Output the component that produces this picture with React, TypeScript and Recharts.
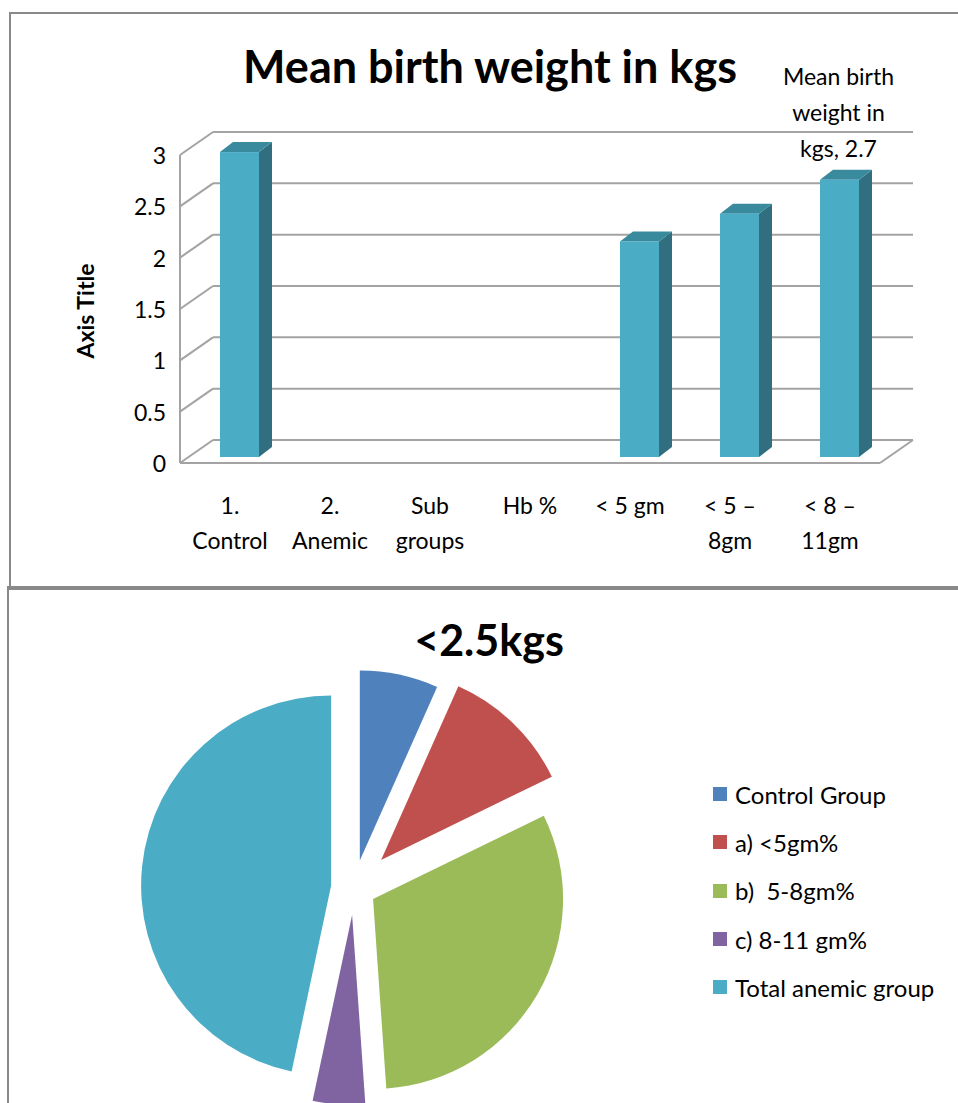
import React from "react";
import { BarChart, Bar, XAxis, YAxis, CartesianGrid, LabelList, PieChart, Pie, Cell } from "recharts";

// Bar chart data
const categories = ["1.\nControl", "2.\nAnemic", "Sub\ngroups", "Hb %", "< 5 gm", "< 5 –\n8gm", "< 8 –\n11gm"];
const meanWeights = [2.97, null, null, null, 2.1, 2.37, 2.7];
const yTicks = [0, 0.5, 1, 1.5, 2, 2.5, 3];
const seriesName = "Mean birth weight in kgs";

// Pie chart data (<2.5 kgs)
const pieNames = ["Control Group", "a) <5gm%", "b)  5-8gm%", "c) 8-11 gm%", "Total anemic group"];
const pieValues = [3, 5, 14, 2, 21];
const pieColors = ["#4F81BD", "#C0504D", "#9BBB59", "#8064A2", "#4BACC6"];
// how far each slice is pulled out from the centre (px)
const pieExplode = [28, 39, 22, 27, 23];

const FONT = "Lato, 'Open Sans', sans-serif";
const GRID = "#A3A3A3";
const BORDER = "#898989";
const TICK_FS = 23;

// plot area of the bar chart (bar plane)
const PLOT_LEFT = 189;
const PLOT_RIGHT = 889;
const PLOT_TOP = 149;
const PLOT_BOTTOM = 457;
// offsets of the front plane and back wall relative to the bar plane
const FX = -9, FY = 6;
const BX = 24, BY = -17;

const barData = categories.map((c, i) => ({ name: c, weight: meanWeights[i] }));
const pieData = pieNames.map((n, i) => ({ name: n, value: pieValues[i] }));

function GridLine(props: any) {
  const y = props.y1;
  const isFloor = Math.abs(y - PLOT_BOTTOM) < 1;
  return (
    <g>
      <line x1={PLOT_LEFT + FX} y1={y + FY} x2={PLOT_LEFT + BX} y2={y + BY} stroke={GRID} strokeWidth={2} />
      <line x1={PLOT_LEFT + BX} y1={y + BY} x2={PLOT_RIGHT + BX} y2={y + BY} stroke={GRID} strokeWidth={2} />
      {isFloor && (
        <>
          <line x1={PLOT_LEFT + FX} y1={y + FY} x2={PLOT_RIGHT + FX} y2={y + FY} stroke={GRID} strokeWidth={2} />
          <line x1={PLOT_RIGHT + FX} y1={y + FY} x2={PLOT_RIGHT + BX} y2={y + BY} stroke={GRID} strokeWidth={2} />
          <line
            x1={PLOT_LEFT + FX}
            y1={y + FY}
            x2={PLOT_LEFT + FX}
            y2={y + FY - (PLOT_BOTTOM - PLOT_TOP)}
            stroke={GRID}
            strokeWidth={2}
          />
        </>
      )}
    </g>
  );
}

function YTick({ y, payload }: any) {
  return (
    <text x={166} y={y + FY} textAnchor="end" dominantBaseline="central" fontSize={TICK_FS} fontFamily={FONT} fill="#000">
      {payload.value}
    </text>
  );
}

function XTick({ x, payload }: any) {
  const lines = String(payload.value).split("\n");
  return (
    <text x={x + FX} y={505} textAnchor="middle" fontSize={TICK_FS} fontFamily={FONT} fill="#000">
      {lines.map((l, i) => (
        <tspan key={i} x={x + FX} y={505 + i * 35} dominantBaseline="central">
          {l}
        </tspan>
      ))}
    </text>
  );
}

function Bar3D(props: any) {
  const { x, y, width, height } = props;
  if (!height || height <= 0) return null;
  const dx = 13, dy = -10;
  return (
    <g>
      <polygon
        points={`${x + width},${y} ${x + width + dx},${y + dy} ${x + width + dx},${y + height + dy} ${x + width},${y + height}`}
        fill="#316F80"
      />
      <polygon points={`${x},${y} ${x + dx},${y + dy} ${x + width + dx},${y + dy} ${x + width},${y}`} fill="#3A8A9E" />
      <rect x={x} y={y} width={width} height={height} fill="#4BACC6" />
    </g>
  );
}

function wrapWords(text: string, max: number) {
  const out: string[] = [];
  let cur = "";
  text.split(" ").forEach((w) => {
    const next = cur ? cur + " " + w : w;
    if (next.length > max && cur) {
      out.push(cur);
      cur = w;
    } else cur = next;
  });
  if (cur) out.push(cur);
  return out;
}

const lastWeight = meanWeights[meanWeights.length - 1];

// only the last bar carries a data label in the original
function WeightLabel(props: any) {
  const vb = props.viewBox || {};
  const x = vb.x ?? props.x;
  const y = vb.y ?? props.y;
  const width = vb.width ?? props.width ?? 0;
  const value = props.value;
  if (value == null || Number(value) !== lastWeight || x == null || y == null) return null;
  const lines = wrapWords(`${seriesName}, ${value}`, 10);
  const cx = x + width / 2;
  return (
    <text textAnchor="middle" fontSize={TICK_FS} fontFamily={FONT} fill="#000">
      {lines.map((l, i) => (
        <tspan key={i} x={cx - 1} y={y - 32 - (lines.length - 1 - i) * 36} dominantBaseline="central">
          {l}
        </tspan>
      ))}
    </text>
  );
}

function AxisTitle(props: any) {
  const vb = props.viewBox || {};
  const cy = (vb.y ?? PLOT_TOP) + (vb.height ?? PLOT_BOTTOM - PLOT_TOP) / 2 + 8;
  return (
    <text
      x={85}
      y={cy}
      transform={`rotate(-90, 85, ${cy})`}
      textAnchor="middle"
      dominantBaseline="central"
      fontSize={23}
      fontWeight="bold"
      fontFamily={FONT}
      fill="#000"
    >
      Axis Title
    </text>
  );
}

// pie explosion offsets, along each slice's mid angle (clockwise from 12 o'clock)
const PIE_CX = 354;
const PIE_CY = 300;
const PIE_R = 190;
const pieTotal = pieValues.reduce((a, b) => a + b, 0);
const pieOffsets = pieValues.map((v, i) => {
  const before = pieValues.slice(0, i).reduce((a, b) => a + b, 0);
  const mid = ((before + v / 2) / pieTotal) * Math.PI * 2;
  return { dx: pieExplode[i] * Math.sin(mid), dy: -pieExplode[i] * Math.cos(mid) };
});

export default function App() {
  return (
    <div style={{ position: "relative", width: 958, height: 1103, overflow: "hidden", background: "#fff", fontFamily: FONT }}>
      <style>{"body{margin:0}"}</style>

      {/* top panel */}
      <div
        style={{
          position: "absolute",
          left: 9,
          top: 12,
          width: 1000,
          height: 574,
          borderLeft: `2px solid ${BORDER}`,
          borderTop: `2px solid ${BORDER}`,
          borderBottom: `2px solid ${BORDER}`,
        }}
      />
      <div
        style={{
          position: "absolute",
          left: 0,
          width: 980,
          top: 38,
          textAlign: "center",
          fontSize: 45,
          fontWeight: "bold",
          lineHeight: "56px",
        }}
      >
        {seriesName}
      </div>
      <div style={{ position: "absolute", left: 0, top: 0 }}>
        <BarChart width={958} height={588} data={barData} margin={{ top: PLOT_TOP, right: 958 - PLOT_RIGHT, bottom: 0, left: 0 }}>
          <CartesianGrid vertical={false} horizontal={(p: any) => <GridLine key={p.key} {...p} />} />
          <YAxis
            type="number"
            domain={[0, 3]}
            ticks={yTicks}
            width={PLOT_LEFT}
            axisLine={false}
            tickLine={false}
            tick={<YTick />}
            label={<AxisTitle />}
          />
          <XAxis dataKey="name" height={588 - PLOT_BOTTOM} axisLine={false} tickLine={false} tick={<XTick />} interval={0} />
          <Bar dataKey="weight" barSize={39} shape={<Bar3D />} isAnimationActive={false}>
            <LabelList dataKey="weight" content={(p: any) => <WeightLabel {...p} />} />
          </Bar>
        </BarChart>
      </div>

      {/* bottom panel */}
      <div
        style={{
          position: "absolute",
          left: 7,
          top: 586,
          width: 1000,
          height: 600,
          borderLeft: `2px solid ${BORDER}`,
          borderTop: `2px solid ${BORDER}`,
        }}
      />
      <div
        style={{
          position: "absolute",
          left: 0,
          width: 978,
          top: 612,
          textAlign: "center",
          fontSize: 43,
          fontWeight: "bold",
          lineHeight: "56px",
        }}
      >
        &lt;2.5kgs
      </div>
      <div style={{ position: "absolute", left: 0, top: 588 }}>
        <PieChart width={958} height={515} margin={{ top: 0, right: 0, bottom: 0, left: 0 }}>
          {pieValues.map((_, k) => (
            <Pie
              key={k}
              data={pieData}
              dataKey="value"
              nameKey="name"
              cx={PIE_CX + pieOffsets[k].dx}
              cy={PIE_CY + pieOffsets[k].dy}
              outerRadius={PIE_R}
              startAngle={90}
              endAngle={-270}
              stroke="none"
              isAnimationActive={false}
            >
              {pieData.map((d, i) => (
                <Cell key={d.name} fill={i === k ? pieColors[i] : "none"} stroke="none" />
              ))}
            </Pie>
          ))}
        </PieChart>
      </div>
      <div style={{ position: "absolute", left: 713, top: 770 }}>
        {pieNames.map((n, i) => (
          <div key={n} style={{ display: "flex", alignItems: "center", height: 48.3, fontSize: 24, whiteSpace: "pre" }}>
            <span style={{ display: "inline-block", width: 14, height: 14, background: pieColors[i], marginRight: 8 }} />
            {n}
          </div>
        ))}
      </div>
    </div>
  );
}
